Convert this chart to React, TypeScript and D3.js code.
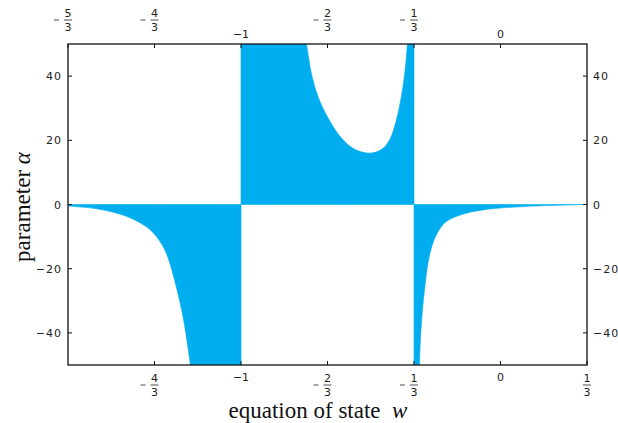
import React from 'react';
import * as d3 from 'd3';

// branch w < -1 (alpha below zero, runs off the bottom near w = -1.2)
const leftW = [-5 / 3, -1.568, -1.504, -1.44, -1.389, -1.35, -1.318, -1.292, -1.273, -1.254, -1.235, -1.219, -1.207, -1.196, -1.18, -1.15, -1.1, -1.0];
const leftA = [-0.5, -1.2, -2.2, -3.7, -5.7, -7.9, -10.8, -14.4, -18.6, -24.2, -30.5, -36.9, -43.2, -49.4, -60, -85, -160, -400];

// branch -1 < w < -1/3 (alpha above zero, dips to ~16)
const midW = [-1.0, -0.95, -0.85, -0.78, -0.748, -0.729, -0.703, -0.664, -0.613, -0.562, -0.504, -0.459, -0.427, -0.401, -0.382, -0.369, -0.359, -0.345, -1 / 3];
const midA = [400, 200, 95, 62, 50, 40.9, 33.6, 26.9, 20.7, 17.2, 16, 17.1, 20.2, 26.4, 33.7, 40.9, 49.9, 75, 150];

// branch w > -1/3 (alpha below zero, back to 0 at w = 1/3)
const rightW = [-1 / 3, -0.32, -0.312, -0.306, -0.292, -0.273, -0.247, -0.209, -0.132, -0.06, 0, 0.128, 0.22, 1 / 3];
const rightA = [-200, -90, -50, -38.5, -26, -15.6, -9.4, -5.3, -2.7, -1.6, -1.1, -0.5, -0.25, 0];

const bottomTicks = [[-4, 3], [-1, 1], [-2, 3], [-1, 3], [0, 1], [1, 3]];
const topTicks = [[-5, 3], [-4, 3], [-1, 1], [-2, 3], [-1, 3], [0, 1]];
const yTicks = [-40, -20, 0, 20, 40];

const W = 618, H = 423;
const m = { left: 68, right: 587, top: 44, bottom: 365 };
const fill = '#00aeef';
const tickFont = '"DejaVu Sans", sans-serif';

const fmtNum = (v: number) => (v < 0 ? '\u2212' + Math.abs(v) : String(v));

const FracLabel = ({ x, y, num, den }: { x: number; y: number; num: number; den: number }) => {
  // y = vertical center of the label
  if (den === 1) {
    return (
      <text x={x} y={y + 4} textAnchor="middle" fontSize={11} fontFamily={tickFont} fill="#222">
        {num < 0 ? '\u2212' + Math.abs(num) : num}
      </text>
    );
  }
  const n = Math.abs(num);
  return (
    <g fontSize={11} fontFamily={tickFont} fill="#222">
      {num < 0 && (
        <line x1={x - 14} x2={x - 9} y1={y} y2={y} stroke="#222" strokeWidth={0.8} />
      )}
      <text x={x} y={y - 3} textAnchor="middle">{n}</text>
      <line x1={x - 4} x2={x + 4} y1={y} y2={y} stroke="#222" strokeWidth={0.8} />
      <text x={x} y={y + 11} textAnchor="middle">{den}</text>
    </g>
  );
};

export default function App() {
  const x = d3.scaleLinear().domain([-5 / 3, 1 / 3]).range([m.left, m.right]);
  const y = d3.scaleLinear().domain([-50, 50]).range([m.bottom, m.top]);

  const area = d3.area<[number, number]>()
    .x(d => x(d[0]))
    .y0(() => y(0))
    .y1(d => y(d[1]))
    .curve(d3.curveCatmullRom.alpha(0.5));

  const branches = [
    d3.zip(leftW, leftA) as [number, number][],
    d3.zip(midW, midA) as [number, number][],
    d3.zip(rightW, rightA) as [number, number][],
  ];

  return (
    <svg width={W} height={H} style={{ position: 'absolute', left: 0, top: 0, background: '#fff' }}>
      <defs>
        <clipPath id="plotClip">
          <rect x={m.left} y={m.top} width={m.right - m.left} height={m.bottom - m.top} />
        </clipPath>
      </defs>
      <g clipPath="url(#plotClip)">
        {branches.map((b, i) => (
          <path key={i} d={area(b) || ''} fill={fill} stroke={fill} strokeWidth={0.6} />
        ))}
      </g>

      <rect x={m.left} y={m.top} width={m.right - m.left} height={m.bottom - m.top}
        fill="none" stroke="#111" strokeWidth={1.3} />

      {bottomTicks.map(([n, d], i) => {
        const px = x(n / d);
        return (
          <g key={'b' + i}>
            <line x1={px} x2={px} y1={m.bottom} y2={m.bottom - 4} stroke="#111" strokeWidth={1} />
            {d === 1
              ? <FracLabel x={px} y={377} num={n} den={d} />
              : <FracLabel x={px} y={385} num={n} den={d} />}
          </g>
        );
      })}

      {topTicks.map(([n, d], i) => {
        const px = x(n / d);
        return (
          <g key={'t' + i}>
            <line x1={px} x2={px} y1={m.top} y2={m.top + 4} stroke="#111" strokeWidth={1} />
            {d === 1
              ? <FracLabel x={px} y={34} num={n} den={d} />
              : <FracLabel x={px} y={20} num={n} den={d} />}
          </g>
        );
      })}

      {yTicks.map(v => (
        <g key={'y' + v} fontSize={11} fontFamily={tickFont} fill="#222" letterSpacing={1}>
          <line x1={m.left} x2={m.left + 4} y1={y(v)} y2={y(v)} stroke="#111" strokeWidth={1} />
          <line x1={m.right} x2={m.right - 4} y1={y(v)} y2={y(v)} stroke="#111" strokeWidth={1} />
          <text x={m.left - 6} y={y(v) + 4} textAnchor="end">{fmtNum(v)}</text>
          <text x={m.right + 6} y={y(v) + 4} textAnchor="start">{fmtNum(v)}</text>
        </g>
      ))}

      <text x={318} y={418} textAnchor="middle" fontSize={23}
        fontFamily='"Liberation Serif", "Times New Roman", serif' fill="#111">
        equation of state{'\u00a0\u00a0'}<tspan fontStyle="italic">w</tspan>
      </text>
      <text transform="translate(30, 207) rotate(-90)" textAnchor="middle"
        fontSize={23} fontFamily='"Liberation Serif", "Times New Roman", serif' fill="#111">
        parameter <tspan fontStyle="italic">{'\u03b1'}</tspan>
      </text>
    </svg>
  );
}
